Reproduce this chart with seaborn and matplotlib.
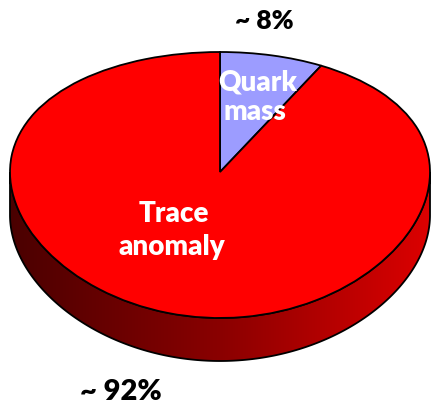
import numpy as np
import matplotlib
matplotlib.use("Agg")
import matplotlib.pyplot as plt
from matplotlib.patches import Polygon
from matplotlib.colors import LinearSegmentedColormap
import seaborn as sns

# ---- data ----
components = ["Quark\nmass", "Trace\nanomaly"]
shares = [8, 92]
share_labels = ["~ 8%", "~ 92%"]
slice_colors = ["#9c9cff", "#ff0000"]

sns.set_style("white")
plt.rcParams["font.family"] = ["Lato", "DejaVu Sans"]

W, H = 432, 406
fig = plt.figure(figsize=(W / 100, H / 100), dpi=100)

# pixel-coordinate axes for the 3D side band
ax = fig.add_axes([0, 0, 1, 1])
ax.set_xlim(0, W)
ax.set_ylim(H, 0)
ax.axis("off")

# top face bounding box (pixels)
left, right, top, bottom = 10, 430, 53, 319
depth = 43
k = 0.0977  # perspective foreshortening of the far half


def fwd(y):
    return y / (1 + k * y)


def inv(y):
    return y / (1 - k * y)


# top face: pie drawn in a perspective-scaled axes
pax = fig.add_axes([left / W, (H - bottom) / H, (right - left) / W, (bottom - top) / H])
pax.pie(shares, colors=slice_colors, startangle=90, counterclock=False,
        wedgeprops=dict(edgecolor="black", linewidth=1.3))
pax.set_aspect("auto")
pax.set_yscale("function", functions=(fwd, inv))
pax.set_xlim(-1, 1)
pax.set_ylim(-1, 1)
pax.axis("off")

# side band: front half of the rim, pushed down by the depth
t = np.linspace(np.pi, 2 * np.pi, 300)
disp = pax.transData.transform(np.column_stack([np.cos(t), np.sin(t)]))
rim = ax.transData.inverted().transform(disp)
xs, ys = rim[:, 0], rim[:, 1]
band_x = np.concatenate([xs, xs[::-1]])
band_y = np.concatenate([ys, ys[::-1] + depth])
band = Polygon(np.column_stack([band_x, band_y]), closed=True,
               facecolor="none", edgecolor="black", linewidth=1.3, zorder=2)
ax.add_patch(band)
cmap = LinearSegmentedColormap.from_list("side", ["#4a0000", "#8a0000", "#dc0000"])
grad = np.linspace(0, 1, 256).reshape(1, -1)
im = ax.imshow(grad, cmap=cmap, extent=[left, right, bottom + depth + 2, top + 100],
               aspect="auto", zorder=1)
im.set_clip_path(band)
ax.set_xlim(0, W)
ax.set_ylim(H, 0)

# labels
ax2 = fig.add_axes([0, 0, 1, 1], facecolor="none")
ax2.set_xlim(0, W)
ax2.set_ylim(H, 0)
ax2.axis("off")
bold = dict(fontweight="heavy", ha="center", va="center")
q1, q2 = components[0].split("\n")
t1, t2 = components[1].split("\n")
ax2.text(258, 82, q1, color="white", fontsize=20, **bold)
ax2.text(255, 112, q2, color="white", fontsize=20, **bold)
ax2.text(174, 214, t1, color="white", fontsize=20, **bold)
ax2.text(172, 247, t2, color="white", fontsize=20, **bold)
ax2.text(264, 21, share_labels[0], color="black", fontsize=19, **bold)
ax2.text(121, 392, share_labels[1], color="black", fontsize=21, **bold)

fig.savefig("out.png", dpi=100)
